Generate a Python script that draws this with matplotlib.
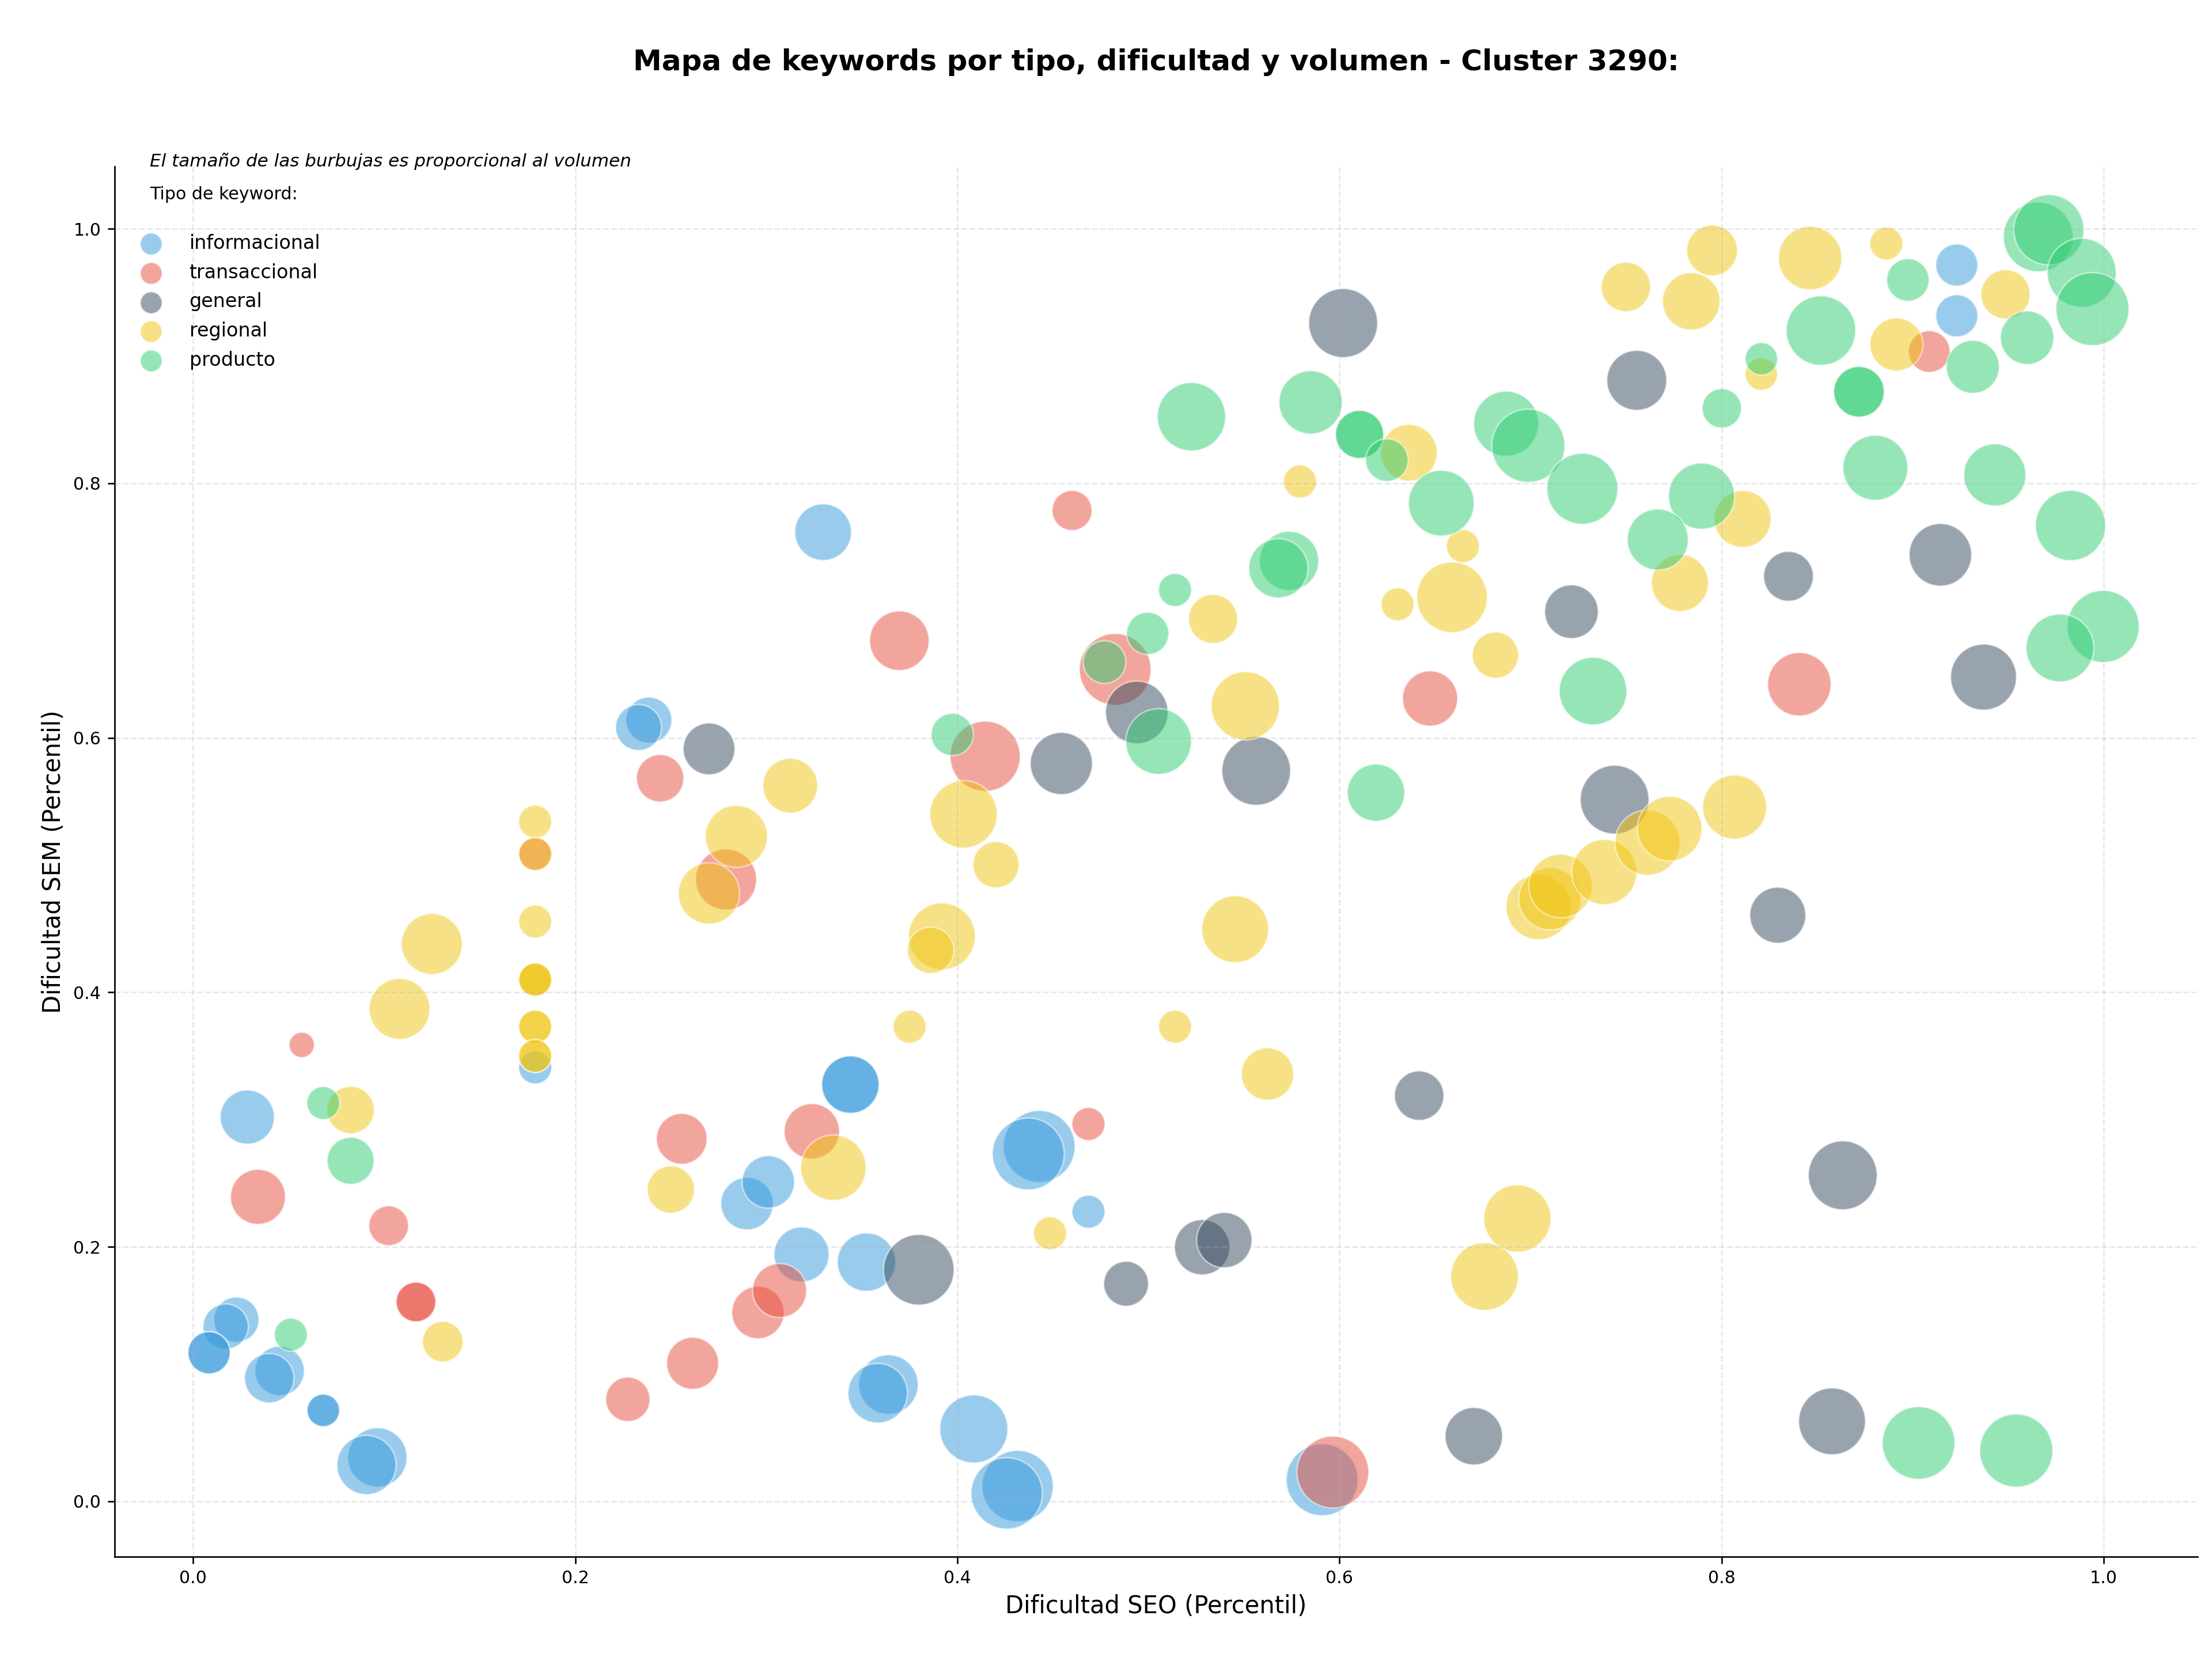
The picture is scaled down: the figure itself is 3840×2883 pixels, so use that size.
import matplotlib.pyplot as plt

#--------------------------------------------------------
# keyword data (x = Dificultad SEO percentil, y = Dificultad SEM percentil, s = bubble area)

x_info = [0.3297, 0.9231, 0.9231, 0.2385, 0.2331, 0.1790, 0.0283, 0.3440, 0.3440, 0.0226,
          0.0170, 0.0083, 0.0083, 0.0452, 0.0398, 0.0681, 0.0681, 0.0964, 0.0907, 0.2899,
          0.3010, 0.3184, 0.3524, 0.3639, 0.3583, 0.4428, 0.4371, 0.4686, 0.4086, 0.4315,
          0.4258, 0.5909]
y_info = [0.7616, 0.9715, 0.9316, 0.6139, 0.6081, 0.3410, 0.3020, 0.3275, 0.3275, 0.1428,
          0.1374, 0.1168, 0.1168, 0.1025, 0.0968, 0.0715, 0.0715, 0.0346, 0.0286, 0.2340,
          0.2510, 0.1940, 0.1880, 0.0918, 0.0850, 0.2789, 0.2730, 0.2276, 0.0569, 0.0120,
          0.0063, 0.0170]
s_info = [868, 480, 480, 572, 572, 295, 793, 895, 895, 555,
          555, 485, 485, 662, 662, 287, 287, 950, 950, 745,
          745, 820, 920, 960, 960, 1400, 1400, 295, 1255, 1380,
          1380, 1400]

x_trans = [0.3696, 0.2444, 0.2789, 0.1790, 0.0568, 0.0339, 0.1023, 0.1166, 0.1166, 0.2557,
           0.2275, 0.2614, 0.2956, 0.3069, 0.3238, 0.4686, 0.5965, 0.4600, 0.4826, 0.4145,
           0.6474, 0.9087, 0.8407]
y_trans = [0.6763, 0.5682, 0.4887, 0.5087, 0.3587, 0.2393, 0.2166, 0.1567, 0.1567, 0.2849,
           0.0802, 0.1085, 0.1484, 0.1657, 0.2908, 0.2965, 0.0230, 0.7786, 0.6538, 0.5855,
           0.6309, 0.9035, 0.6421]
s_trans = [960, 608, 1010, 295, 174, 820, 428, 428, 428, 697,
           534, 733, 745, 793, 830, 295, 1400, 435, 1395, 1335,
           825, 470, 1090]

x_gen = [0.2700, 0.3798, 0.6417, 0.5281, 0.5397, 0.4883, 0.6703, 0.8294, 0.8634, 0.8578,
         0.6019, 0.7556, 0.7214, 0.4939, 0.5564, 0.4544, 0.7440, 0.8350, 0.9145, 0.9371]
y_gen = [0.5913, 0.1820, 0.3188, 0.1997, 0.2053, 0.1710, 0.0512, 0.4606, 0.2562, 0.0629,
         0.9259, 0.8809, 0.6991, 0.6200, 0.5740, 0.5798, 0.5514, 0.7269, 0.7438, 0.6477]
s_gen = [727, 1350, 662, 830, 830, 545, 895, 850, 1285, 1210,
         1290, 972, 780, 1060, 1280, 1046, 1280, 670, 1060, 1178]

x_reg = [0.1249, 0.1080, 0.1790, 0.1790, 0.1790, 0.1790, 0.1790, 0.1790, 0.1790, 0.1790,
         0.1790, 0.1790, 0.0824, 0.1306, 0.2500, 0.3351, 0.3750, 0.3919, 0.3860, 0.5454,
         0.5139, 0.5623, 0.4485, 0.6931, 0.6759, 0.3125, 0.2843, 0.2700, 0.6363, 0.7782,
         0.8110, 0.5793, 0.6646, 0.6589, 0.6304, 0.6816, 0.5338, 0.5507, 0.4032, 0.4202,
         0.7042, 0.7101, 0.7157, 0.7386, 0.7612, 0.7728, 0.8068, 0.7950, 0.7499, 0.7841,
         0.8463, 0.8862, 0.9486, 0.8915, 0.8208]
y_reg = [0.4380, 0.3870, 0.4556, 0.4100, 0.4100, 0.4100, 0.3730, 0.3730, 0.3500, 0.3500,
         0.5341, 0.5087, 0.3075, 0.1255, 0.2450, 0.2622, 0.3730, 0.4440, 0.4330, 0.4496,
         0.3730, 0.3358, 0.2107, 0.2223, 0.1767, 0.5624, 0.5225, 0.4777, 0.8240, 0.7217,
         0.7720, 0.8014, 0.7506, 0.7104, 0.7049, 0.6650, 0.6934, 0.6251, 0.5399, 0.5003,
         0.4670, 0.4735, 0.4835, 0.4945, 0.5176, 0.5286, 0.5456, 0.9830, 0.9543, 0.9430,
         0.9770, 0.9884, 0.9485, 0.9091, 0.8858]
s_reg = [1005, 1000, 295, 295, 295, 295, 295, 295, 295, 295,
         296, 295, 607, 445, 607, 1163, 295, 1210, 585, 1210,
         295, 745, 295, 1225, 1240, 811, 1046, 1020, 868, 880,
         880, 296, 296, 1352, 296, 580, 650, 1265, 1230, 580,
         1150, 1050, 1100, 1150, 1150, 1135, 1110, 700, 660, 894,
         1090, 295, 656, 762, 286]

x_prod = [0.0681, 0.0824, 0.0511, 0.5225, 0.5849, 0.6105, 0.6105, 0.6248, 0.6872, 0.6988,
          0.7271, 0.6533, 0.8001, 0.7895, 0.7666, 0.7327, 0.5736, 0.5680, 0.5139, 0.4996,
          0.4770, 0.5053, 0.3973, 0.6191, 0.9031, 0.9542, 0.8975, 0.9657, 0.9713, 0.9885,
          0.9941, 0.8520, 0.9315, 0.9599, 0.8208, 0.8719, 0.8719, 0.8805, 0.9430, 0.9826,
          0.9997, 0.9771]
y_prod = [0.3130, 0.2676, 0.1310, 0.8523, 0.8636, 0.8384, 0.8384, 0.8182, 0.8468, 0.8295,
          0.7957, 0.7844, 0.8589, 0.7899, 0.7558, 0.6367, 0.7390, 0.7332, 0.7162, 0.6820,
          0.6595, 0.5971, 0.6026, 0.5569, 0.0459, 0.0399, 0.9598, 0.9936, 0.9992, 0.9654,
          0.9369, 0.9200, 0.8915, 0.9144, 0.8978, 0.8719, 0.8719, 0.8122, 0.8066, 0.7668,
          0.6875, 0.6706]
s_prod = [295, 600, 295, 1266, 1083, 628, 628, 493, 1146, 1450,
          1365, 1170, 420, 1185, 1010, 1240, 950, 950, 296, 485,
          493, 1170, 485, 890, 1430, 1450, 490, 1318, 1335, 1290,
          1447, 1308, 762, 775, 286, 695, 695, 1145, 1045, 1335,
          1410, 1245]

tipos = ["informacional", "transaccional", "general", "regional", "producto"]
colores = {"informacional": "#3498db",
           "transaccional": "#e74c3c",
           "general": "#34495e",
           "regional": "#f1c40f",
           "producto": "#2ecc71"}

datos = {"informacional": (x_info, y_info, s_info),
         "transaccional": (x_trans, y_trans, s_trans),
         "general": (x_gen, y_gen, s_gen),
         "regional": (x_reg, y_reg, s_reg),
         "producto": (x_prod, y_prod, s_prod)}

#--------------------------------------------------------

fig, ax = plt.subplots(figsize=(16, 2883/240))
plt.subplots_adjust(left=0.0517, right=0.9936, bottom=0.0629, top=0.8997)

for tipo in tipos:
    x, y, s = datos[tipo]
    ax.scatter(x, y, s=s, c=colores[tipo], alpha=0.5, edgecolors="white", linewidths=0.8)

# legend handles with fixed size
for tipo in tipos:
    ax.scatter([], [], s=130, c=colores[tipo], alpha=0.5, edgecolors="white", linewidths=0.8, label=tipo)

leg = ax.legend(loc="upper left", bbox_to_anchor=(0.0, 0.964),
                frameon=False, fontsize=10, labelspacing=0.53, handletextpad=1.0)

ax.text(0.017, 1.0, "El tamaño de las burbujas es proporcional al volumen",
        transform=ax.transAxes, fontsize=9.3, style="italic", va="baseline", ha="left")
ax.text(0.017, 0.9764, "Tipo de keyword:",
        transform=ax.transAxes, fontsize=9, va="baseline", ha="left")

ax.set_title("Mapa de keywords por tipo, dificultad y volumen - Cluster 3290:",
             fontsize=15, fontweight="bold", pad=50)
ax.set_xlabel("Dificultad SEO (Percentil)", fontsize=12.5)
ax.set_ylabel("Dificultad SEM (Percentil)", fontsize=12.5)
ax.tick_params(labelsize=9)

ax.grid(True, linestyle="--", alpha=0.3)
ax.spines["top"].set_visible(False)
ax.spines["right"].set_visible(False)

plt.savefig("out.png", dpi=240)
